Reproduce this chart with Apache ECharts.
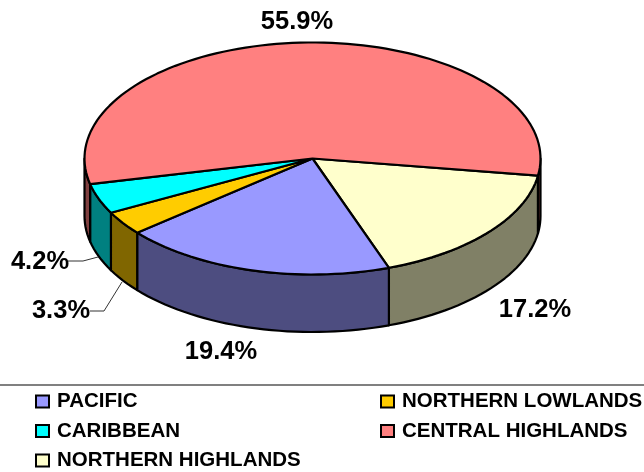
<!DOCTYPE html>
<html lang="en">
<head>
    <meta charset="UTF-8">
    <style>
    html,
    body {
        height: 100%;
        margin: 0;
        background: #fff;
    }
    </style>
</head>
<body>
<div id="chart" style="width:644px;height:472px;"></div>
<script src="https://cdn.jsdelivr.net/npm/echarts@6/dist/echarts.min.js"></script>
<script>
    // slices in drawing order, clockwise from the right edge
    var categories = ['NORTHERN HIGHLANDS', 'PACIFIC', 'NORTHERN LOWLANDS', 'CARIBBEAN', 'CENTRAL HIGHLANDS'];
    var shares = [17.2, 19.4, 3.3, 4.2, 55.9];
    var topColors = ['#FFFFCC', '#9999FF', '#FFCC00', '#00FFFF', '#FF8080'];
    var wallColors = ['#808066', '#4D4D80', '#806600', '#008080', '#804040'];
    var legendLeft = ['PACIFIC', 'CARIBBEAN', 'NORTHERN HIGHLANDS'];
    var legendRight = ['NORTHERN LOWLANDS', 'CENTRAL HIGHLANDS'];

    // pie geometry
    var cx = 312.5, cy = 158.5, rx = 228, ry = 116, depth = 57.5;
    var startAngle = 8.5;
    var labelSpots = [[535, 310], [221, 352], [61, 311], [40, 262], [297, 22]];
    var leaders = {
        2: [[90, 311], [104, 311], [122, 282]],
        3: [[68, 261], [83, 261], [98, 257]]
    };

    var total = shares.reduce((a, b) => a + b, 0);

    function pt(deg, drop) {
        var t = deg * Math.PI / 180;
        return [cx + rx * Math.cos(t), cy + ry * Math.sin(t) + (drop || 0)];
    }

    function arc(from, to, drop) {
        var pts = [];
        var n = Math.max(2, Math.ceil(Math.abs(to - from) / 2));
        for (var i = 0; i <= n; i++) {
            pts.push(pt(from + (to - from) * i / n, drop));
        }
        return pts;
    }

    function wall(from, to, fill) {
        var pts = arc(from, to, 0).concat(arc(to, from, depth));
        return {
            type: 'polygon',
            shape: {points: pts},
            style: {fill: fill, stroke: '#000', lineWidth: 2.2, lineJoin: 'round'}
        };
    }

    function renderSlice(idx) {
        var before = shares.slice(0, idx).reduce((a, b) => a + b, 0);
        var a0 = startAngle + before / total * 360;
        var a1 = a0 + shares[idx] / total * 360;
        var children = [];

        // only the front half of the rim shows
        if (a0 < 180) {
            children.push(wall(a0, Math.min(a1, 180), wallColors[idx]));
        }
        if (a1 > 360) {
            children.push(wall(360, a1, wallColors[idx]));
        }
        children.push({
            type: 'polygon',
            shape: {points: [[cx, cy]].concat(arc(a0, a1, 0))},
            style: {fill: topColors[idx], stroke: '#000', lineWidth: 2.2, lineJoin: 'round'}
        });
        if (leaders[idx]) {
            children.push({
                type: 'polyline',
                shape: {points: leaders[idx]},
                style: {fill: 'none', stroke: '#333', lineWidth: 1}
            });
        }
        children.push({
            type: 'text',
            style: {
                x: labelSpots[idx][0],
                y: labelSpots[idx][1],
                text: shares[idx].toFixed(1) + '%',
                fill: '#000',
                font: 'bold 25.5px "Liberation Sans"',
                align: 'center',
                verticalAlign: 'middle'
            }
        });
        return {type: 'group', children: children};
    }

    function legendFor(names, left) {
        return {
            data: names,
            orient: 'vertical',
            left: left,
            top: 391,
            itemWidth: 13,
            itemHeight: 12,
            itemGap: 8.5,
            icon: 'rect',
            selectedMode: false,
            padding: 0,
            itemStyle: {borderColor: '#000', borderWidth: 2},
            textStyle: {
                color: '#000',
                fontFamily: 'Liberation Sans',
                fontWeight: 'bold',
                fontSize: 20.5,
                lineHeight: 20,
                padding: [0, 0, 0, 3]
            }
        };
    }

    var myChart = echarts.init(document.getElementById('chart'));
    myChart.setOption({
        animation: false,
        legend: [legendFor(legendLeft, 35), legendFor(legendRight, 380)],
        graphic: [{
            type: 'line',
            shape: {x1: 0, y1: 385, x2: 644, y2: 385},
            style: {stroke: '#808080', lineWidth: 2}
        }],
        series: categories.map((name, idx) => ({
            type: 'custom',
            name: name,
            coordinateSystem: 'none',
            itemStyle: {color: topColors[idx]},
            data: [shares[idx]],
            renderItem: () => renderSlice(idx)
        }))
    });
</script>
</body>
</html>
